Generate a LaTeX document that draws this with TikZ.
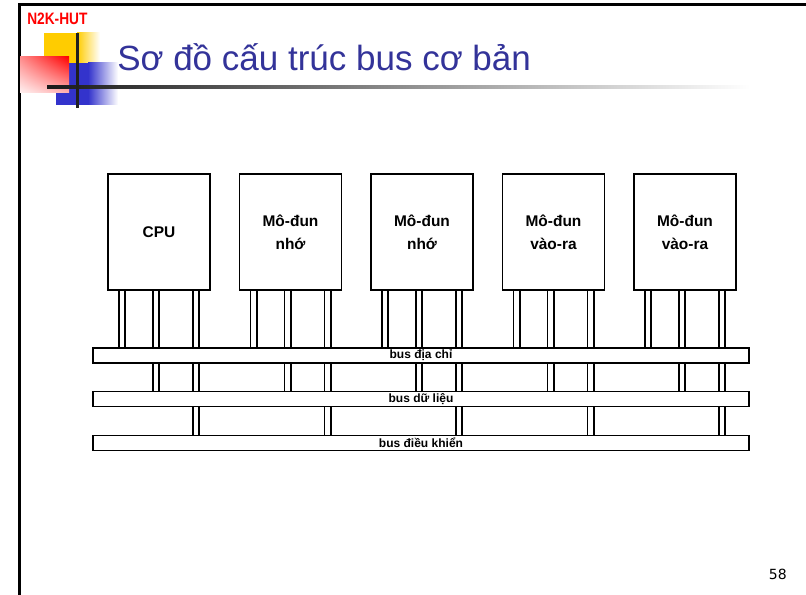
\documentclass[tikz,border=0pt]{standalone}
\usepackage{graphicx}
\usepackage{fontspec}
\setmainfont{Liberation Sans}
\newfontfamily\numfont{DejaVu Sans}
\usetikzlibrary{backgrounds,calc,shadings}
\definecolor{titleblue}{RGB}{51,51,153}
\definecolor{decoyellow}{RGB}{255,204,0}
\definecolor{decoblue}{RGB}{51,51,204}
\definecolor{decored}{RGB}{255,0,0}
\begin{document}
\begin{tikzpicture}[x=0.75pt,y=-0.75pt,
  modbox/.style={draw, line width=1.3pt, fill=white, minimum width=76.5pt, minimum height=87pt, inner sep=0pt, align=center, font=\bfseries\fontsize{11.6pt}{17.25pt}\selectfont},
  busbar/.style={draw, line width=1.3pt, fill=white, minimum width=492pt, minimum height=11.25pt, inner sep=0pt, font=\bfseries\fontsize{9pt}{10pt}\selectfont},
  leg/.style={line width=1.2pt, draw=black, double=white, double distance=3.6pt, line cap=butt}]
\useasboundingbox (0,0) rectangle (806,595);

% slide frame
\draw[line width=2.25pt, line join=miter] (19,595) -- (19,5) -- (806,5);

% header decoration
\fill[decoyellow] (44,33) rectangle (77,63);
\shade[left color=decoyellow, right color=white] (77,33) rectangle (100,63);
\fill[decoblue] (56,63) rectangle (88,105);
\shade[left color=decoblue, right color=white] (88,63) rectangle (118,105);
\shade[upper left=decored!45, upper right=decored, lower left=decored!5, lower right=decored!30] (20,57) rectangle (69,93);
\shade[left color=black!90, right color=white] (47,85.5) rectangle (750,88.5);
\fill[black!88] (75.5,33) rectangle (78.5,108);

\node[anchor=base west, inner sep=0pt, text=decored, font=\bfseries\fontsize{12.4pt}{14pt}\selectfont] (logo) at (27,25) {\scalebox{0.83}[1]{N2K-HUT}};
\node[anchor=base west, inner sep=0pt, text=titleblue, font=\fontsize{26.25pt}{30pt}\selectfont] (title) at (117,71) {Sơ đồ cấu trúc bus cơ bản};
\node[anchor=base east, inner sep=0pt, font=\numfont\fontsize{10.5pt}{12pt}\selectfont] (pagenum) at (787,579) {58};

% modules
\node[modbox] (cpu) at (159,232) {CPU};
\node[modbox] (mem1) at (290.5,232) {Mô-đun\\nhớ};
\node[modbox] (mem2) at (422,232) {Mô-đun\\nhớ};
\node[modbox] (io1) at (553.5,232) {Mô-đun\\vào-ra};
\node[modbox] (io2) at (685,232) {Mô-đun\\vào-ra};

% buses
\node[busbar] (abus) at (421,355.5) {bus địa chỉ};
\node[busbar] (dbus) at (421,399) {bus dữ liệu};
\node[busbar] (cbus) at (421,443) {bus điều khiển};

% legs
\begin{scope}[on background layer]
\foreach \m in {cpu,mem1,mem2,io1,io2}{
  \coordinate (\m-a) at ([xshift=-27.75pt]\m.south);
  \coordinate (\m-d) at ([xshift=-2.25pt]\m.south);
  \coordinate (\m-c) at ([xshift=27.75pt]\m.south);
  \draw[leg] (\m-a) -- (\m-a |- abus.north);
  \draw[leg] (\m-d) -- (\m-d |- dbus.north);
  \draw[leg] (\m-c) -- (\m-c |- cbus.north);
}
\end{scope}
\end{tikzpicture}
\end{document}
